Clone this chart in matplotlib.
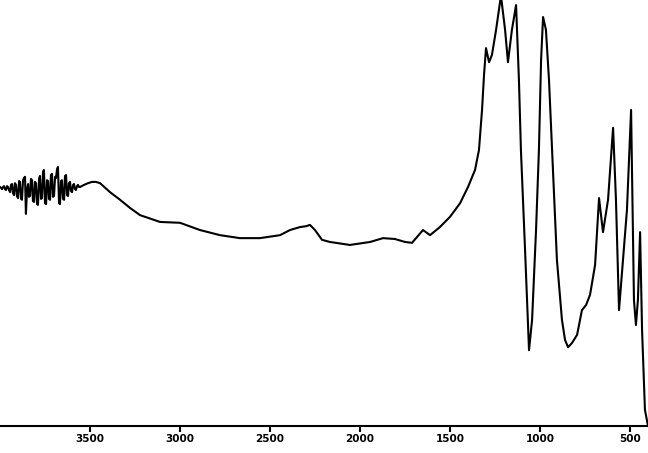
import numpy as np
import matplotlib
matplotlib.use("Agg")
import matplotlib.pyplot as plt

# IR spectrum: wavenumber (cm-1) and transmittance (% of frame height)
# noisy O-H region, read about one point per pixel
noise_wn = [
    4000, 3994, 3989, 3983, 3978, 3972, 3967, 3961, 3956, 3950,
    3944, 3939, 3933, 3928, 3922, 3917, 3911, 3906, 3900, 3894,
    3889, 3883, 3878, 3872, 3867, 3861, 3856, 3850, 3844, 3839,
    3833, 3828, 3822, 3817, 3811, 3806, 3800, 3794, 3789, 3783,
    3778, 3772, 3767, 3761, 3756, 3750, 3744, 3739, 3733, 3728,
    3722, 3717, 3711, 3706, 3700, 3694, 3689, 3683, 3678, 3672,
    3667, 3661, 3656, 3650, 3644, 3639, 3633, 3628, 3622, 3617,
    3611, 3606, 3600, 3594, 3589, 3583, 3578, 3572, 3567, 3561,
    3556,
]
noise_t = [
    56.1, 55.9, 55.6, 56.1, 56.3, 55.6, 55.4, 56.3, 56.1, 55.4,
    54.9, 56.6, 56.8, 54.7, 54.2, 57.0, 56.6, 54.0, 53.5, 57.5,
    57.3, 53.3, 53.1, 57.7, 58.2, 58.5, 49.8, 55.4, 56.8, 53.8,
    54.0, 58.0, 57.7, 52.8, 52.6, 57.3, 57.0, 52.1, 51.9, 58.0,
    58.7, 53.3, 53.5, 59.6, 60.1, 52.3, 52.1, 57.7, 57.5, 53.3,
    53.1, 58.9, 59.2, 53.8, 54.0, 58.5, 58.2, 60.3, 60.8, 52.3,
    52.1, 57.5, 57.7, 53.3, 53.1, 58.7, 58.9, 54.2, 54.0, 57.0,
    57.3, 55.2, 54.9, 56.6, 56.8, 55.6, 55.4, 56.3, 56.6, 56.1,
    56.1,
]
# rest of the spectrum
main_wn = [
    3533, 3511, 3489, 3467, 3444, 3389, 3333, 3278, 3222,
    3111, 3000, 2889, 2778, 2667, 2556, 2444, 2389, 2333, 2300,
    2278, 2250, 2211, 2167, 2056, 1944, 1872, 1806, 1750, 1711,
    1650, 1611, 1556, 1500, 1444, 1400, 1361, 1339, 1322, 1311,
    1300, 1283, 1267, 1244, 1217, 1194, 1178, 1156, 1133, 1117,
    1106, 1083, 1061, 1044, 1022, 1006, 994, 983, 967, 950,
    933, 906, 878, 861, 844, 822, 794, 767, 744, 722, 694, 672,
    650, 622, 594, 578, 561, 539, 517, 494, 478, 467,
    456, 444, 433, 417, 400,
]
main_t = [
    56.6, 57.0, 57.3, 57.3, 57.0, 54.9, 53.1, 51.2, 49.5,
    47.9, 47.7, 46.0, 44.8, 44.1, 44.1, 44.8, 46.0, 46.7, 46.9,
    47.2, 46.0, 43.7, 43.2, 42.5, 43.2, 44.1, 43.9, 43.2, 43.0,
    46.0, 44.8, 46.7, 49.1, 52.3, 56.1, 60.1, 64.8, 74.2, 82.4,
    88.7, 85.4, 87.1, 93.0, 101.0, 93.0, 85.4, 93.0, 98.8, 81.2,
    64.8, 41.3, 17.8, 24.9, 46.0, 64.8, 85.9, 96.0, 93.0, 81.2,
    64.8, 39.0, 24.9, 20.2, 18.5, 19.5, 21.4, 27.2, 28.4, 30.8, 37.8, 53.5,
    45.5, 53.1, 70.0, 53.1, 27.2, 39.0, 50.7, 74.2, 29.6, 23.7,
    29.6, 45.5, 22.5, 3.8, 0.0,
]
tick_values = [3500, 3000, 2500, 2000, 1500, 1000, 500]

wavenumber = noise_wn + main_wn
transmittance = noise_t + main_t

fig = plt.figure(figsize=(6.48, 4.53), dpi=100)
ax = fig.add_axes([0, 27 / 453, 1, 426 / 453])

ax.plot(wavenumber, transmittance, color="black", linewidth=1.5)

ax.set_xlim(4000, 400)
ax.set_ylim(0, 100)

for side in ["top", "right", "left"]:
    ax.spines[side].set_visible(False)
ax.spines["bottom"].set_linewidth(1.5)

ax.set_xticks(tick_values)
ax.set_xticklabels([str(t) for t in tick_values], fontsize=7.5, fontweight="bold")
ax.tick_params(axis="x", direction="out", length=4, width=1.5, pad=2)
ax.set_yticks([])

fig.savefig("out.png", dpi=100, facecolor="white")
